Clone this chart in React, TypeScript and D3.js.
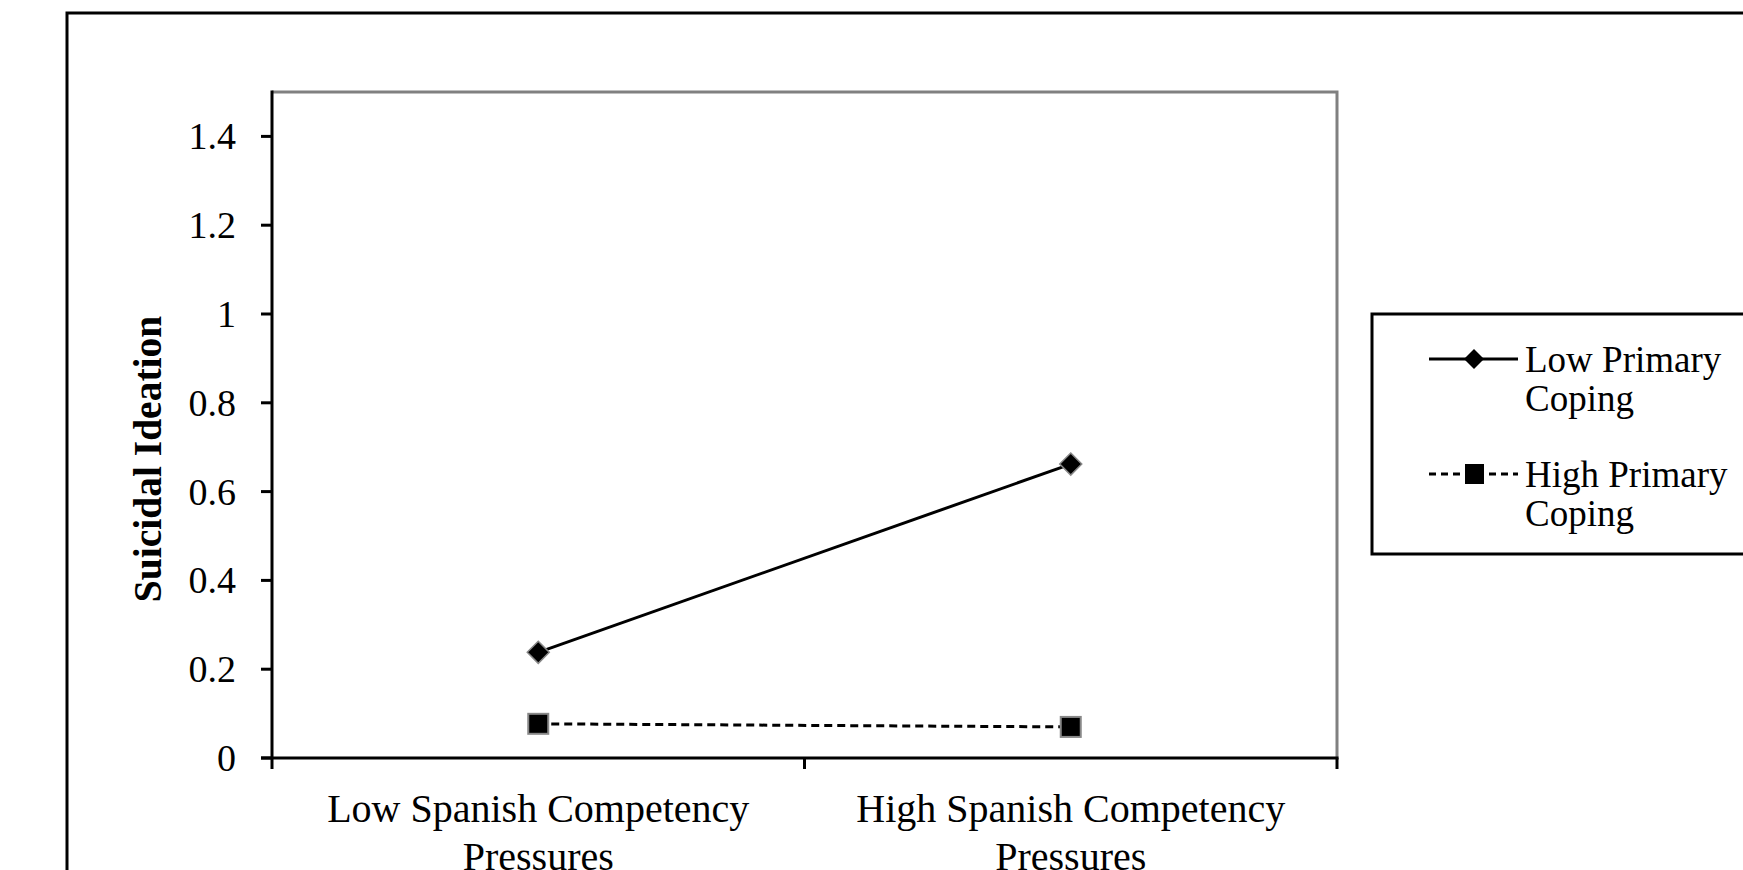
import React from "react";
import * as d3 from "d3";

const categories: string[][] = [
  ["Low Spanish Competency", "Pressures"],
  ["High Spanish Competency", "Pressures"],
];
const seriesNames: string[][] = [
  ["Low Primary", "Coping"],
  ["High Primary", "Coping"],
];
const lowPrimaryCoping: number[] = [0.238, 0.662];
const highPrimaryCoping: number[] = [0.077, 0.07];
const yTickValues: number[] = [0, 0.2, 0.4, 0.6, 0.8, 1, 1.2, 1.4];
const yTickLabels: string[] = ["0", "0.2", "0.4", "0.6", "0.8", "1", "1.2", "1.4"];
const yTitle = "Suicidal Ideation";

const W = 1743;
const H = 870;
const FONT = "'Liberation Serif', 'Times New Roman', serif";

export default function App() {
  const left = 272;
  const right = 1337;
  const top = 92;
  const bottom = 758;

  const x = d3.scaleBand<number>().domain([0, 1]).range([left, right]).padding(0);
  const y = d3.scaleLinear().domain([0, 1.5]).range([bottom, top]);
  const cx = (i: number) => (x(i) as number) + x.bandwidth() / 2;

  const line = d3
    .line<number>()
    .x((_, i) => cx(i))
    .y((d) => y(d));

  const diamond = (px: number, py: number, r: number) =>
    `M${px},${py - r}L${px + r},${py}L${px},${py + r}L${px - r},${py}Z`;

  const xTicks = [left, ...categories.map((_, i) => (x(i) as number) + x.bandwidth())];

  // legend
  const lgX = 1372;
  const lgY = 314;
  const lgRows = [359, 474];
  const lgTextX = 1525;
  const lgLineX1 = 1429;
  const lgLineX2 = 1518;
  const lgMarkX = 1474;

  return (
    <svg
      width={W}
      height={H}
      style={{ position: "absolute", left: 0, top: 0, background: "#fff" }}
      fontFamily={FONT}
    >
      <rect x={0} y={0} width={W} height={H} fill="#fff" />
      {/* outer frame */}
      <rect x={67} y={13} width={W + 20} height={H + 20} fill="none" stroke="#000" strokeWidth={3} />

      {/* plot border top/right gray */}
      <path
        d={`M${left},${top}H${right}V${bottom}`}
        fill="none"
        stroke="#808080"
        strokeWidth={3}
      />

      {/* y axis */}
      <line x1={left} y1={top - 1.5} x2={left} y2={bottom} stroke="#000" strokeWidth={3} />
      {yTickValues.map((v, i) => (
        <g key={"yt" + i}>
          <line x1={left - 11} x2={left} y1={y(v)} y2={y(v)} stroke="#000" strokeWidth={3} />
          <text x={236} y={y(v) + 13} textAnchor="end" fontSize={38} fill="#000">
            {yTickLabels[i]}
          </text>
        </g>
      ))}

      {/* x axis */}
      <line x1={left - 11} y1={bottom} x2={right + 1.5} y2={bottom} stroke="#000" strokeWidth={3} />
      {xTicks.map((t, i) => (
        <line key={"xt" + i} x1={t} x2={t} y1={bottom} y2={bottom + 11} stroke="#000" strokeWidth={3} />
      ))}
      {categories.map((lines, i) => (
        <text key={"xl" + i} x={cx(i)} y={822} textAnchor="middle" fontSize={40} fill="#000">
          {lines.map((l, j) => (
            <tspan key={j} x={cx(i)} dy={j === 0 ? 0 : 48}>
              {l}
            </tspan>
          ))}
        </text>
      ))}

      {/* y title */}
      <text
        transform={`translate(161,459) rotate(-90)`}
        textAnchor="middle"
        fontSize={39.5}
        fontWeight="bold"
        fill="#000"
      >
        {yTitle}
      </text>

      {/* series */}
      <path d={line(lowPrimaryCoping) || ""} fill="none" stroke="#000" strokeWidth={3} />
      <path
        d={line(highPrimaryCoping) || ""}
        fill="none"
        stroke="#000"
        strokeWidth={3}
        strokeDasharray="8,5"
      />
      {lowPrimaryCoping.map((v, i) => (
        <path key={"d" + i} d={diamond(cx(i), y(v), 11)} fill="#000" stroke="#888" strokeWidth={1.5} />
      ))}
      {highPrimaryCoping.map((v, i) => (
        <rect
          key={"s" + i}
          x={cx(i) - 10}
          y={y(v) - 10}
          width={20}
          height={20}
          fill="#000"
          stroke="#888"
          strokeWidth={2}
        />
      ))}

      {/* legend */}
      <rect x={lgX} y={lgY} width={W} height={554 - lgY} fill="#fff" stroke="#000" strokeWidth={3} />
      <line x1={lgLineX1} x2={lgLineX2} y1={lgRows[0]} y2={lgRows[0]} stroke="#000" strokeWidth={3} />
      <path d={diamond(lgMarkX, lgRows[0], 10)} fill="#000" />
      <line
        x1={lgLineX1}
        x2={lgLineX2}
        y1={lgRows[1]}
        y2={lgRows[1]}
        stroke="#000"
        strokeWidth={3}
        strokeDasharray="7,5"
      />
      <rect x={lgMarkX - 9} y={lgRows[1] - 10} width={19} height={20} fill="#000" />
      {seriesNames.map((lines, i) => (
        <text key={"lg" + i} x={lgTextX} y={lgRows[i] + 13} fontSize={37} fill="#000">
          {lines.map((l, j) => (
            <tspan key={j} x={lgTextX} dy={j === 0 ? 0 : 39}>
              {l}
            </tspan>
          ))}
        </text>
      ))}
    </svg>
  );
}
